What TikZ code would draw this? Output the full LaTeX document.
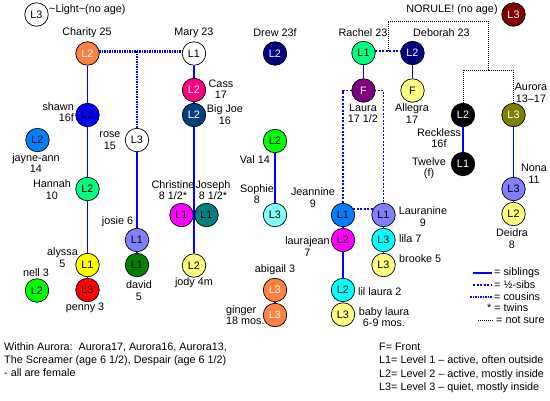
\documentclass[tikz,border=0pt]{standalone}
\usepackage{fontspec}
\setmainfont{Liberation Sans}
\usetikzlibrary{calc,backgrounds}
\definecolor{corange}{HTML}{FF8040}
\definecolor{cspring}{HTML}{00FF80}
\definecolor{cdodger}{HTML}{0080FF}
\definecolor{cperi}{HTML}{8080FF}
\definecolor{cpink}{HTML}{FF0080}
\definecolor{cbigjoe}{HTML}{004080}
\definecolor{cnavy}{HTML}{000080}
\definecolor{cpurple}{HTML}{800080}
\definecolor{cpaley}{HTML}{FFFF80}
\definecolor{cpalec}{HTML}{80FFFF}
\definecolor{cmaroon}{HTML}{800000}
\definecolor{colive}{HTML}{808000}
\definecolor{cteal}{HTML}{008080}
\definecolor{cdgreen}{HTML}{008000}
\definecolor{cgreen}{HTML}{00FF00}
\definecolor{ccyan}{HTML}{00FFFF}
\definecolor{cmag}{HTML}{FF00FF}
\definecolor{cyel}{HTML}{FFFF00}
\definecolor{cred}{HTML}{FF0000}
\definecolor{cblue}{HTML}{0000FF}
\tikzset{
  lv/.style={circle, draw=black, line width=0.7pt, minimum size=23.5pt, inner sep=0pt, font=\fontsize{10.8}{12}\selectfont},
  wt/.style={text=white},
  lbl/.style={inner sep=0pt, align=center, font=\fontsize{10.8}{11.5}\selectfont},
  sib/.style={draw=cblue, line width=1.3pt},
  half/.style={draw=cblue, line width=1.2pt, dash pattern=on 2pt off 1.5pt},
  cousin/.style={draw=cblue, line width=2.2pt, dash pattern=on 1.5pt off 1pt},
  notsure/.style={draw=black, line width=0.9pt, dash pattern=on 1pt off 1pt},
}
\begin{document}
\begin{tikzpicture}[x=1pt,y=-1pt]
\begin{scope}[on background layer]
\path[fill=white] (0,0) rectangle (550,400);
\end{scope}
\useasboundingbox (0,0) rectangle (550,400);

% ---- nodes
\node[lv] (light) at (36.5,14.5) {L3};
\node[lv,fill=corange,wt] (charity) at (87.5,53.5) {L2};
\node[lv] (mary) at (194,53.5) {L1};
\node[lv,fill=cnavy,wt] (drew) at (275,53.5) {L2};
\node[lv,fill=cspring] (rachel) at (363.5,53) {L1};
\node[lv,fill=cnavy,wt] (deborah) at (412.5,53) {L2};
\node[lv,fill=cmaroon,wt] (norule) at (513.5,14.5) {L3};
\node[lv,fill=cblue] (shawn) at (87.5,115) {L2};
\node[lv,fill=cpink,wt] (cass) at (194,90) {L2};
\node[lv,fill=cbigjoe,wt] (bigjoe) at (194,115) {L2};
\node[lv,fill=cpurple,wt] (laura) at (363.5,90.5) {F};
\node[lv,fill=cpaley] (allegra) at (412.5,90.5) {F};
\node[lv,fill=black,wt] (reckless) at (463,115) {L2};
\node[lv,fill=colive,wt] (aurora) at (513.5,115) {L3};
\node[lv,fill=cdodger] (jayne) at (37.5,140) {L2};
\node[lv] (rose) at (137,140) {L3};
\node[lv,fill=cgreen] (val) at (275,141) {L2};
\node[lv,fill=black,wt] (twelve) at (463,164) {L1};
\node[lv,fill=cspring] (hannah) at (87.5,189) {L2};
\node[lv,fill=cperi] (nona) at (513.5,189) {L3};
\node[lv,fill=cpaley] (deidra) at (513.5,214) {L2};
\node[lv,fill=cmag] (christine) at (181.5,215) {L1};
\node[lv,fill=cteal] (joseph) at (206.5,215) {L1};
\node[lv,fill=cpalec] (sophie) at (275,215) {L3};
\node[lv,fill=cdodger] (jeannine) at (343,215) {L1};
\node[lv,fill=cperi] (lauranine) at (383.5,215) {L1};
\node[lv,fill=cperi] (josie) at (137,240) {L1};
\node[lv,fill=cmag] (laurajean) at (343,240) {L2};
\node[lv,fill=ccyan] (lila) at (383.5,240) {L3};
\node[lv,fill=cyel] (alyssa) at (87.5,265) {L1};
\node[lv,fill=cdgreen] (david) at (137,265) {L1};
\node[lv,fill=cpaley] (jody) at (194,265.5) {L2};
\node[lv,fill=cpaley] (brooke) at (383.5,265) {L3};
\node[lv,fill=cgreen] (nell) at (37,290.5) {L2};
\node[lv,fill=cred] (penny) at (87.5,290) {L3};
\node[lv,fill=corange,wt] (abigail) at (275,290) {L3};
\node[lv,fill=ccyan] (lillaura) at (343,290) {L2};
\node[lv,fill=corange,wt] (ginger) at (275,315) {L3};
\node[lv,fill=cpaley] (babylaura) at (343,314.5) {L3};

% ---- labels
\node[lbl,anchor=west] (tlight) at (49,10) {\textasciitilde Light\textasciitilde(no age)};
\node[lbl] (tnorule) at (452,10) {NORULE! (no age)};
\node[lbl] (tcharity) at (87,33) {Charity 25};
\node[lbl] (tmary) at (194,33) {Mary 23};
\node[lbl] (tdrew) at (275,33) {Drew 23f};
\node[lbl] (trachel) at (363,33) {Rachel 23};
\node[lbl,anchor=west] (tdeborah) at (413,33) {Deborah 23};
\node[lbl,anchor=east,align=right] (tshawn) at (74,112) {shawn\\16f};
\node[lbl] (tcass) at (221,89) {Cass\\17};
\node[lbl] (tbigjoe) at (225,114.5) {Big Joe\\16};
\node[lbl] (tlaura) at (363,113.5) {Laura\\17 1/2};
\node[lbl] (tallegra) at (412,113.5) {Allegra\\17};
\node[lbl] (taurora) at (531,93) {Aurora\\13\textendash17};
\node[lbl] (treckless) at (439,138) {Reckless\\16f};
\node[lbl] (ttwelve) at (429,168) {Twelve\\(f)};
\node[lbl] (tjayne) at (36,163) {jayne-ann\\14};
\node[lbl] (trose) at (110,140.5) {rose\\15};
\node[lbl,anchor=east] (tval) at (270,160) {Val 14};
\node[lbl] (thannah) at (52,189.5) {Hannah\\10};
\node[lbl] (tnona) at (534,174) {Nona\\11};
\node[lbl] (tdeidra) at (512,238.5) {Deidra\\8};
\node[lbl] (tchristine) at (173,190) {Christine\\8 1/2*};
\node[lbl] (tjoseph) at (213,190) {Joseph\\8 1/2*};
\node[lbl] (tsophie) at (257,194) {Sophie\\8};
\node[lbl] (tjeannine) at (313,197.5) {Jeannine\\9};
\node[lbl] (tlauranine) at (423,216.5) {Lauranine\\9};
\node[lbl] (tjosie) at (117.5,222) {josie 6};
\node[lbl] (tlaurajean) at (307.5,246.5) {laurajean\\7};
\node[lbl,anchor=west] (tlila) at (399,239) {lila 7};
\node[lbl] (talyssa) at (62.5,257.5) {alyssa\\5};
\node[lbl,anchor=west] (tbrooke) at (399,259) {brooke 5};
\node[lbl] (tnell) at (36,273) {nell 3};
\node[lbl] (tabigail) at (275,270) {abigail 3};
\node[lbl] (tjody) at (194,283) {jody 4m};
\node[lbl] (tdavid) at (139,290.5) {david\\5};
\node[lbl,anchor=west] (tlillaura) at (358,292) {lil laura 2};
\node[lbl] (tpenny) at (85,308) {penny 3};
\node[lbl,anchor=west,align=left] (tginger) at (226,315) {ginger\\18 mos.};
\node[lbl] (tbaby) at (384,317) {baby laura\\6-9 mos.};

\node[lbl,anchor=west,align=left,font=\fontsize{10.8}{13}\selectfont] (twithin) at (4,360)
  {Within Aurora:\ \ Aurora17, Aurora16, Aurora13,\\The Screamer (age 6 1/2), Despair (age 6 1/2)\\- all are female};
\node[lbl,anchor=west,align=left,font=\fontsize{10.8}{13.3}\selectfont] (tlevels) at (379,368)
  {F= Front\\L1= Level 1 \textendash{} active, often outside\\L2= Level 2 \textendash{} active, mostly inside\\L3= Level 3 \textendash{} quiet, mostly inside};

% legend
\coordinate (la1) at (473,273); \coordinate (la2) at (492,273);
\coordinate (lb1) at (473,285); \coordinate (lb2) at (492,285);
\coordinate (lc1) at (470,297); \coordinate (lc2) at (492,297);
\coordinate (ld1) at (478,320); \coordinate (ld2) at (493,320);
\node[lbl,anchor=west] (lsib) at (494,273) {= siblings};
\node[lbl,anchor=west] (lhalf) at (494,285) {= ½-sibs};
\node[lbl,anchor=west] (lcous) at (494,297) {= cousins};
\node[lbl,anchor=west] (ltwin) at (487,308) {* = twins};
\node[lbl,anchor=west] (lns) at (496,320) {= not sure};

% ---- connectors (behind nodes)
\begin{scope}[on background layer]
\draw[sib] (charity) -- (penny);
\draw[sib] (mary) -- (jody);
\draw[sib] (rose) -- (david);
\draw[sib] (val) -- (sophie);
\draw[sib] (rachel) -- (laura);
\draw[sib] (deborah) -- (allegra);
\draw[sib] (reckless) -- (twelve);
\draw[sib] (aurora) -- (deidra);
\draw[sib] (jeannine) -- (babylaura);
\draw[sib] (lauranine) -- (brooke);
\draw[sib] (abigail) -- (ginger);
\draw[sib] (christine) -- (joseph);
\draw[cousin] (charity.10) -- (mary.170);
\draw[cousin] (rose.north) -- (rose.north |- charity.10);
\draw[half] (rachel.10) -- (deborah.170);
\draw[half] (jeannine.north) |- (laura.center) -| (lauranine.north);
\draw[half] (jeannine.30) -- (lauranine.150);
\coordinate (ns0) at ($(rachel.10)!0.5!(deborah.170)$);
\coordinate (ns1) at (488,21);
\coordinate (ns2) at (488,70);
\draw[notsure] (ns0) |- (ns1) -- (ns2);
\draw[notsure] (reckless.north) |- (ns2);
\draw[notsure] (aurora.north) |- (ns2);
\draw[sib] (la1) -- (la2);
\draw[half] (lb1) -- (lb2);
\draw[cousin] (lc1) -- (lc2);
\draw[notsure] (ld1) -- (ld2);
\end{scope}
\end{tikzpicture}
\end{document}
